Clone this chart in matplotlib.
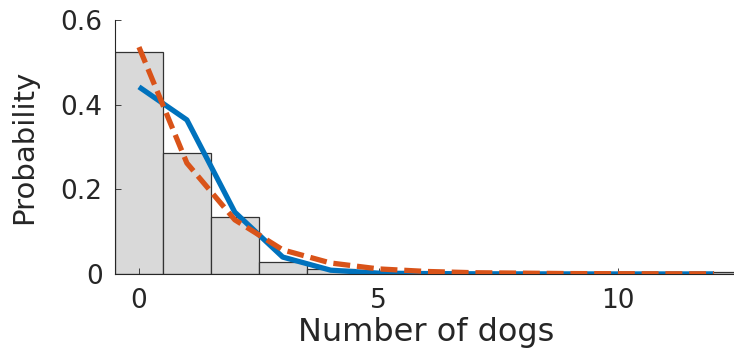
import numpy as np
import matplotlib
matplotlib.use("Agg")
import matplotlib.pyplot as plt

counts = list(range(13))
hist_prob = [0.524, 0.286, 0.135, 0.028, 0.012, 0.004, 0.002, 0.001, 0.0005, 0.0005, 0.0005, 0.0005, 0.004]
model_a = [0.442, 0.364, 0.146, 0.040, 0.009, 0.002, 0.001, 0.0005, 0.0003, 0.0002, 0.0001, 0.0001, 0.0001]
model_b = [0.536, 0.262, 0.128, 0.057, 0.026, 0.012, 0.006, 0.003, 0.002, 0.001, 0.0007, 0.0005, 0.0004]
xticks = [0, 5, 10]
yticks = [0, 0.2, 0.4, 0.6]

plt.rcParams['font.family'] = ['DejaVu Sans']
fig = plt.figure(figsize=(7.34, 3.5), dpi=100)
W, H = 734, 350
left, right, top, bottom = 115, 738, 20, 274
ax = fig.add_axes([left / W, (H - bottom) / H, (right - left) / W, (bottom - top) / H])

ax.bar(counts, hist_prob, width=1.0, color='#d9d9d9', edgecolor='#333333', linewidth=0.9, zorder=1)
ax.plot(counts, model_a, color='#0072BD', linewidth=3.8, solid_capstyle='butt', zorder=2)
ax.plot(counts, model_b, color='#D95319', linewidth=3.8, linestyle=(0, (3.2, 1.3)), dash_capstyle='butt', zorder=3)

ax.set_xlim(-0.5, 12.5)
ax.set_ylim(0, 0.6)
ax.set_xticks(xticks)
ax.set_yticks(yticks)
ax.set_yticklabels(['0', '0.2', '0.4', '0.6'])
ax.tick_params(direction='in', length=4, width=0.6, colors='#262626', labelsize=19, pad=9)
ax.tick_params(axis='x', pad=10)
for s in ['top', 'right']:
    ax.spines[s].set_visible(False)
for s in ['left', 'bottom']:
    ax.spines[s].set_color('#262626')
    ax.spines[s].set_linewidth(0.8)

ax.set_xlabel('Number of dogs', fontsize=23, color='#262626', labelpad=2)
ax.set_ylabel('Probability', fontsize=21, color='#262626', labelpad=16)

fig.savefig('out.png', dpi=100)
